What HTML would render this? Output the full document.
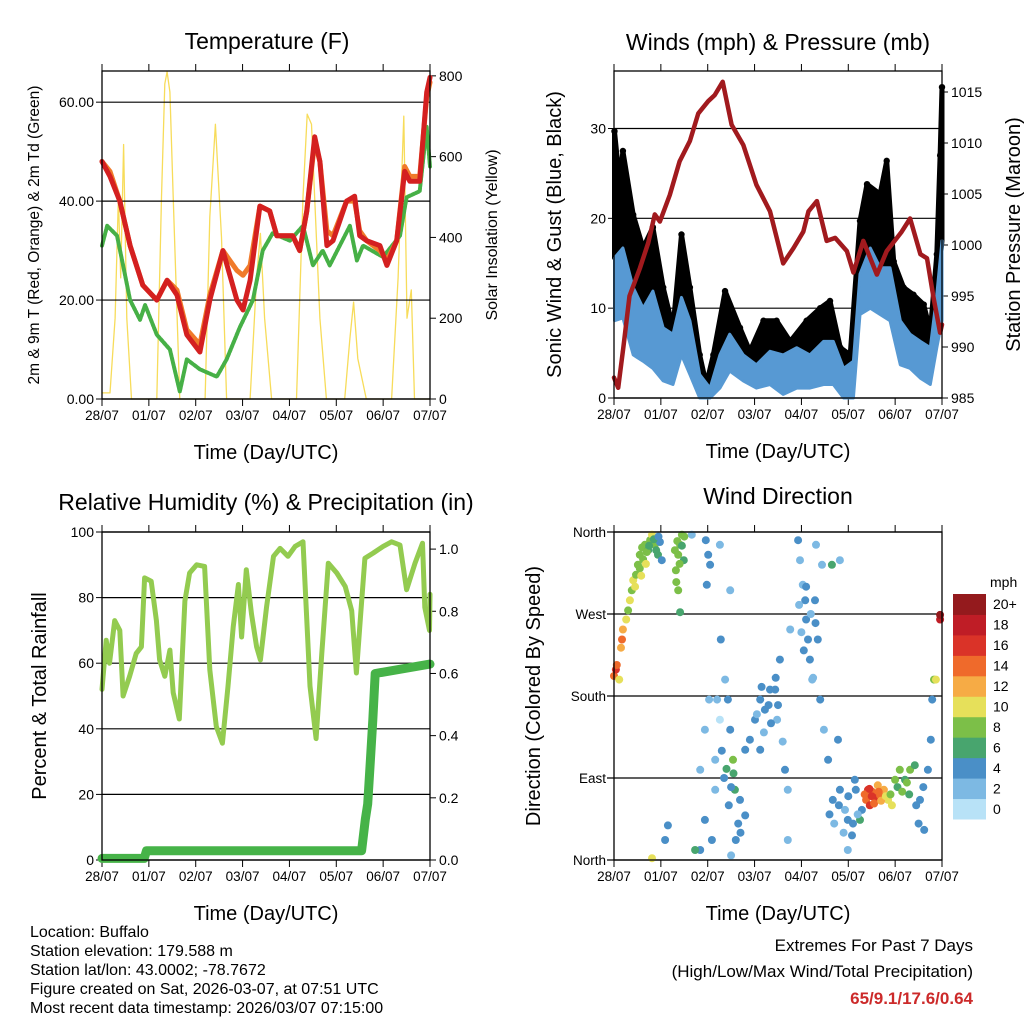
<!DOCTYPE html>
<html><head><meta charset="utf-8"><style>
html,body{margin:0;padding:0;background:#fff;}
svg{display:block;font-family:"Liberation Sans",sans-serif;}
</style></head><body>
<svg id="root" width="1024" height="1024" viewBox="0 0 1024 1024" xmlns="http://www.w3.org/2000/svg">
<g id="g"></g>
<g font-size="16" fill="#000">
<text x="30" y="937">Location: Buffalo</text>
<text x="30" y="956">Station elevation: 179.588 m</text>
<text x="30" y="975">Station lat/lon: 43.0002; -78.7672</text>
<text x="30" y="994">Figure created on Sat, 2026-03-07, at 07:51 UTC</text>
<text x="30" y="1013">Most recent data timestamp: 2026/03/07 07:15:00</text>
</g>
<g text-anchor="end" font-size="17">
<text x="973" y="951">Extremes For Past 7 Days</text>
<text x="973" y="977">(High/Low/Max Wind/Total Precipitation)</text>
<text x="973" y="1004" fill="#cc2a2a" font-weight="bold">65/9.1/17.6/0.64</text>
</g>
</svg>
<script>
// ---------- DATA ----------
const dayLabels=["28/07","01/07","02/07","03/07","04/07","05/07","06/07","07/07"];
const dayTicks=[0,1,2,3,4,5,6,7];
// Temperature panel
const tempT=[0,.17,.38,.6,.87,1.17,1.39,1.6,1.81,2.09,2.3,2.58,2.88,3.01,3.16,3.37,3.58,3.73,4.07,4.22,4.37,4.54,4.65,4.8,4.93,5.22,5.39,5.5,5.65,5.93,6.08,6.29,6.46,6.57,6.78,6.93,7.0];
const temp2m=[48,45,40,31,23,20,24,21,13,9.5,20,30,20,18,24,39,38,33,33,30,38,53,48,31,32,40,41,33,32,31,27,32,46,44,44,62,65];
const temp9m=[48,46,40,31,23,20,24,22,14,11,21,30,26,25,27,39,38,33,33,30,38,52,48,34,33,40,40,34,32,30,28,32,47,45,45,61,64];
const dewT=[0,.11,.32,.45,.6,.81,.92,1.17,1.45,1.66,1.81,2.09,2.45,2.66,2.94,3.22,3.43,3.64,4.01,4.29,4.5,4.71,4.86,5.29,5.44,5.57,6.0,6.36,6.5,6.78,6.93,7.0];
const dew2m=[31,35,33,27,20,16,19,13,10,1.5,8,6,4.5,8,14.5,20,30,33.5,32,35,27,30,27,35,28,31,28.7,33,40.8,42,55,47];
const solarT=[0,.17,.28,.35,.4,.46,.53,.63,1.17,1.27,1.34,1.39,1.45,1.52,1.66,2.2,2.3,2.42,2.55,2.66,3.16,3.3,3.38,3.47,3.62,4.15,4.29,4.38,4.47,4.65,4.79,5.18,5.29,5.37,5.46,5.64,6.18,6.32,6.44,6.51,6.6,6.67,7.0];
const solarW=[15,15,200,500,300,630,200,0,0,500,780,810,760,500,0,0,450,680,400,0,0,300,410,200,0,0,500,705,680,200,0,0,150,240,100,0,0,300,700,200,270,0,0];
// Winds panel
const presT=[0,.09,.2,.33,.55,.73,.87,.98,1.19,1.4,1.62,1.8,2.01,2.15,2.32,2.51,2.76,3.04,3.33,3.61,3.83,4.04,4.15,4.33,4.54,4.72,4.97,5.11,5.32,5.61,5.82,6.14,6.32,6.54,6.68,6.82,6.96,7.0];
const presMb=[987,986,990,995,997.7,1000.2,1003,1002.3,1004.9,1008.2,1010.2,1012.9,1014.1,1014.7,1016,1011.8,1009.8,1005.9,1003.3,998.2,999.7,1001.3,1003.3,1004.3,1000.4,1000.7,999.4,997.3,1000.4,997.1,999.4,1001.3,1002.6,999.1,998.7,994.8,991.4,992.2];
const gustT=[.01,.12,.19,.41,.62,.83,1.05,1.26,1.44,1.62,1.83,1.97,2.12,2.37,2.69,2.9,3.19,3.47,3.76,4.11,4.4,4.61,4.83,5.04,5.25,5.4,5.68,5.82,5.97,6.18,6.39,6.61,6.75,6.89,6.96,7.0];
const gustMph=[29.7,24,27.5,20.4,16.7,19,12.3,7.8,18.2,12.3,4.8,1.5,4.8,11.9,7.8,5.2,8.6,8.6,6.3,8.6,10,10.8,5.6,4.8,19.7,23.8,22.7,26.4,15.2,12.3,11.5,10.4,7.4,16,27,34.6];
const sonicT=[.01,.19,.41,.62,.83,1.05,1.26,1.44,1.62,1.83,2.05,2.26,2.47,2.76,3.04,3.33,3.61,3.9,4.18,4.47,4.68,4.9,5.11,5.25,5.47,5.68,5.89,6.11,6.32,6.54,6.75,6.89,7.0];
const sonicHi=[15.6,16.7,12.3,10,11.9,7.8,7.1,11.2,8.6,2.6,1.1,4.8,7.1,4.8,3.7,5.2,4.8,5.6,4.8,6.3,6.3,3.3,4.1,13.8,16.7,14.5,14.5,8.6,7.1,6.3,5.6,11.5,17.5];
const sonicLo=[8.6,8.9,4.8,4.1,3.3,1.9,1.5,4.8,2.6,0,0,1.1,3,1.9,1.1,1.5,0.4,1.1,1.1,1.5,1.5,0,0,9.3,10,9.3,8.6,3.7,3.3,2.2,1.5,5.6,8.6];
// RH panel
const rhT=[0,.09,.16,.27,.38,.45,.59,.73,.84,.91,1.05,1.16,1.23,1.34,1.45,1.52,1.65,1.77,1.87,2.02,2.19,2.3,2.44,2.57,2.69,2.8,2.91,2.98,3.08,3.19,3.3,3.38,3.51,3.66,3.8,3.97,4.12,4.29,4.44,4.57,4.69,4.83,5.01,5.19,5.33,5.43,5.52,5.61,5.79,6.0,6.18,6.36,6.5,6.68,6.84,6.89,6.99,7.0];
const rhPct=[52,67,60,73,70,50,56,63,65,86,85,73,61,56,64,51,43,79,87.5,90,89.5,58,40.7,35.6,53,71,84,68,88.5,75,65,61,77,92.6,95,92.6,95.6,97,53,37,63,90.5,87.5,83.4,76,57,75,92,93.6,95.6,97,96,82.4,90.5,96.6,77,70,81];
const precT=[0,.9,.95,5.54,5.62,5.67,5.72,5.78,5.83,7.0];
const precIn=[0.005,0.005,0.03,0.03,0.13,0.18,0.3,0.45,0.6,0.63];
// Wind direction panel
const dirT=[0,.04,.06,.11,.15,.17,.19,.26,.30,.34,.38,.41,.47,.51,.55,.60,.66,.73,.77,.81,.87,.94,.98,1.02,1.32,1.37,1.41,1.45,1.49,1.37,1.41,1.66,1.96,2.01,2.05,1.98,2.26,2.48,2.28,2.37,2.20,2.26,2.16,2.16,2.09,1.94,1.84,2.43,2.48,2.54,2.58,2.69,2.80,2.60,2.50,2.80,2.90,3.01,3.12,3.22,3.33,3.44,3.48,3.54,3.65,3.71,3.71,3.93,3.97,4.03,4.08,4.10,4.14,4.18,4.23,4.29,4.35,4.40,4.48,4.31,4.44,4.65,4.82,4.78,4.57,4.67,4.82,4.93,4.99,5.14,5.16,5.29,5.42,5.51,5.59,5.68,5.76,5.85,5.93,6.00,6.10,6.21,6.32,6.42,6.53,6.62,6.70,6.76,6.79,6.83,6.87,6.96,6.96,5.38,5.46,5.63,5.25,1.84,1.94,2.03,1.73,1.09,.81,1.15,3.76,3.12,4.99,5.08,
 .55,.62,.7,.75,.85,.9,.95,.68,.58,.45,1.3,1.35,1.4,1.45,1.5,1.33,2.3,2.35,2.4,2.45,2.5,2.55,2.65,2.7,3.05,3.15,3.2,3.3,3.35,3.45,3.5,3.6,3.95,4.0,4.05,4.1,4.2,4.25,4.3,4.6,4.7,4.8,4.9,5.0,5.1,5.2,5.35,5.45,5.5,5.55,5.65,5.7,5.8,5.9,6.05,6.15,6.25,6.3,6.45,6.5,6.6];
const dirDeg=[202,209,214,198,233,242,253,264,274,285,296,307,313,324,335,343,346,340,351,357,346,335,349,329,318,335,346,357,329,296,272,357,351,335,324,302,346,296,242,198,176,154,110,77,22,44,11,176,143,110,77,66,49,22,5,121,132,154,176,165,187,187,154,220,99,77,22,351,329,302,285,264,242,220,198,285,242,176,143,346,324,324,329,132,110,66,77,55,11,88,77,55,77,75,68,71,77,66,60,88,99,88,99,104,66,33,99,132,176,198,198,264,269,66,60,82,44,99,143,176,11,22,2,38,253,121,44,27,
 320,330,338,345,352,340,355,325,312,300,340,350,325,345,355,305,120,90,100,60,80,95,40,30,160,190,140,170,150,200,170,130,280,250,230,300,270,200,260,50,40,60,30,70,40,50,72,78,70,62,75,65,70,72,80,75,85,72,60,40,80];
const dirSpd=[14,15,13,10,12,13,12,9,8,10,8,10,8,7,8,8,7,6,8,10,7,5,4,4,8,7,8,8,6,7,6,2,4,4,4,3,2,1,4,1,1,0,1,2,4,4,3,4,3,7,6,4,4,4,1,3,3,3,4,3,4,3,2,3,3,2,1,3,1,2,3,4,3,3,2,3,3,4,2,1,1,5,2,3,4,4,3,2,2,3,4,3,15,14,16,13,12,10,9,8,7,6,7,5,4,3,4,3,4,7,10,18,20,14,16,12,6,1,1,2,5,4,10,3,1,4,4,3,
 7,8,7,6,5,6,4,9,10,9,8,7,7,6,8,7,3,4,5,4,3,6,4,4,2,3,2,4,3,4,3,2,2,2,3,3,2,2,3,3,2,3,2,4,3,2,14,16,15,13,14,12,10,7,6,7,8,5,4,4,4];
const speedBins=["0","2","4","6","8","10","12","14","16","18","20+"];
const speedColors=["#b8e2f7","#7db9e3","#4a8fc7","#48a56e","#7cbf48","#e6e05a","#f6ab45","#ef6a2b","#da3328","#bf1d26","#941a1d"];

// ---------- HELPERS ----------
const NS="http://www.w3.org/2000/svg";
const G=document.getElementById('g');
function el(tag,attrs,parent){const e=document.createElementNS(NS,tag);for(const k in attrs)e.setAttribute(k,attrs[k]);(parent||G).appendChild(e);return e;}
function lin(d0,d1,r0,r1){return v=>r0+(v-d0)/(d1-d0)*(r1-r0);}
function pathD(xs,ys,fx,fy){return xs.map((t,i)=>(i?'L':'M')+fx(t).toFixed(1)+','+fy(ys[i]).toFixed(1)).join('');}

function frame(p){
  const g=el('g',{});
  
  
  p.lticks.forEach((v,i)=>{
    const y=p.fy(v);
    if(p.grid){const l=el('line',{x1:p.x0-(p.gridExt||0),x2:p.x1,y1:y,y2:y,stroke:'#000','stroke-width':1.2},g);
    
    }
    el('line',{x1:p.x0-6,x2:p.x0,y1:y,y2:y,stroke:'#000','stroke-width':1},g);
    const tx=el('text',{x:p.x0-8,y:y+5,'text-anchor':'end','font-size':p.lfs||14},g);
    tx.textContent=p.llabels[i];
    
    
  });
  if(p.rticks){p.rticks.forEach((v,i)=>{
    const y=p.fyr(v);
    el('line',{x1:p.x1,x2:p.x1+6,y1:y,y2:y,stroke:'#000','stroke-width':1},g);
    const tx=el('text',{x:p.x1+9,y:y+5,'font-size':14},g);
    tx.textContent=p.rlabels[i];
    
    
  });}
  dayTicks.forEach((d,i)=>{
    const x=p.fx(d);
    el('line',{x1:x,x2:x,y1:p.y0-7,y2:p.y0,stroke:'#000','stroke-width':1},g);
    el('line',{x1:x,x2:x,y1:p.y1,y2:p.y1+7,stroke:'#000','stroke-width':1},g);
    const tx=el('text',{x:x,y:p.y1+21,'text-anchor':'middle','font-size':13.5},g);
    tx.textContent=dayLabels[i];
    
    
  });
  const xt=el('text',{x:(p.x0+p.x1)/2,y:p.y1+60,'text-anchor':'middle','font-size':20},g);
  xt.textContent='Time (Day/UTC)';
  
  
  const tt=el('text',{x:p.tx,y:p.ty,'text-anchor':'middle','font-size':23},g);
  tt.textContent=p.title;
  
  
  const ly=el('text',{transform:`translate(${p.lax},${(p.y0+p.y1)/2}) rotate(-90)`,'text-anchor':'middle','font-size':p.lafs||20},g);
  ly.textContent=p.ltitle;
  
  
  if(p.rtitle){const ry=el('text',{transform:`translate(${p.rax},${(p.y0+p.y1)/2}) rotate(-90)`,'text-anchor':'middle','font-size':p.rafs||20},g);
  ry.textContent=p.rtitle;
  
  }
  return g;
}
function box(p){const r=el('rect',{x:p.x0,y:p.y0,width:p.x1-p.x0,height:p.y1-p.y0,fill:'none',stroke:'#000','stroke-width':1.3});

}
function line(xs,ys,fx,fy,color,w,name,extra){const e=el('path',Object.assign({d:pathD(xs,ys,fx,fy),fill:'none',stroke:color,'stroke-width':w,'stroke-linejoin':'round','stroke-linecap':'round'},extra||{}));

return e;}

// ---------- PANEL 1: Temperature ----------
{const p={name:'temperature',x0:102,x1:430,y0:71,y1:399};
p.fx=lin(0,7,p.x0,p.x1);p.fy=lin(0,66.3,p.y1,p.y0);p.fyr=lin(0,812,p.y1,p.y0);
p.lticks=[0,20,40,60];p.llabels=["0.00","20.00","40.00","60.00"];p.grid=true;
p.rticks=[0,200,400,600,800];p.rlabels=["0","200","400","600","800"];
p.title='Temperature (F)';p.tx=267;p.ty=49;
p.ltitle='2m & 9m T (Red, Orange) & 2m Td (Green)';p.lax=39;p.lafs=15.5;
p.rtitle='Solar Insolation (Yellow)';p.rax=497;p.rafs=16;
line(solarT,solarW,p.fx,p.fyr,'#f7dc5a',1.3,'solar-insolation-line');
frame(p);
line(dewT,dew2m,p.fx,p.fy,'#46b046',4,'dewpoint-2m-line',{'stroke-dasharray':'3 1.5'});
line(tempT,temp9m,p.fx,p.fy,'#f07a2a',5,'temp-9m-line');
line(tempT,temp2m,p.fx,p.fy,'#d42020',5,'temp-2m-line');
box(p);}

// ---------- PANEL 2: Winds & Pressure ----------
{const p={name:'winds',x0:614,x1:942,y0:71,y1:398};
p.fx=lin(0,7,p.x0,p.x1);p.fy=lin(0,36.4,p.y1,p.y0);p.fyr=lin(985,1017.06,p.y1,p.y0);
p.lticks=[0,10,20,30];p.llabels=["0","10","20","30"];p.grid=true;
p.rticks=[985,990,995,1000,1005,1010,1015];p.rlabels=p.rticks.map(String);
p.title='Winds (mph) & Pressure (mb)';p.tx=778;p.ty=50;
p.ltitle='Sonic Wind & Gust (Blue, Black)';p.lax=561;
p.rtitle='Station Pressure (Maroon)';p.rax=1020;
frame(p);
const top=gustT.map((t,i)=>[p.fx(t),p.fy(gustMph[i])]);
const bot=sonicT.map((t,i)=>[p.fx(t),p.fy(sonicHi[i])]).reverse();
const gb=el('path',{d:'M'+top.concat(bot).map(q=>q[0].toFixed(1)+','+q[1].toFixed(1)).join('L')+'Z',fill:'#000',stroke:'#000','stroke-width':5,'stroke-linejoin':'round'});


gustT.forEach((t,i)=>{const c=el('circle',{cx:p.fx(t),cy:p.fy(gustMph[i]),r:3.2,fill:'#000'});

});
const st=sonicT.map((t,i)=>[p.fx(t),p.fy(sonicHi[i])]);
const sb=sonicT.map((t,i)=>[p.fx(t),p.fy(sonicLo[i])]).reverse();
const bb=el('path',{d:'M'+st.concat(sb).map(q=>q[0].toFixed(1)+','+q[1].toFixed(1)).join('L')+'Z',fill:'#5799d3',stroke:'#5799d3','stroke-width':3,'stroke-linejoin':'round'});


line(presT,presMb,p.fx,p.fyr,'#a11a1e',4.5,'pressure-line');
box(p);}

// ---------- PANEL 3: RH & Precip ----------
{const p={name:'humidity',x0:102,x1:430,y0:532,y1:860};
p.fx=lin(0,7,p.x0,p.x1);p.fy=lin(0,100,p.y1,p.y0);p.fyr=lin(0,1.055,p.y1,p.y0);
p.lticks=[0,20,40,60,80,100];p.llabels=p.lticks.map(String);p.grid=true;
p.rticks=[0,.2,.4,.6,.8,1.0];p.rlabels=["0.0","0.2","0.4","0.6","0.8","1.0"];
p.title='Relative Humidity (%) & Precipitation (in)';p.tx=266;p.ty=510;
p.ltitle='Percent & Total Rainfall';p.lax=46;
frame(p);
line(rhT,rhPct,p.fx,p.fy,'#93cb50',5,'relative-humidity-line');
line(precT,precIn,p.fx,p.fyr,'#46b348',9,'precipitation-line');
box(p);}

// ---------- PANEL 4: Wind Direction ----------
{const p={name:'wind-direction',x0:614,x1:942,y0:532,y1:860};
p.fx=lin(0,7,p.x0,p.x1);p.fy=lin(0,360,p.y1,p.y0);
p.lticks=[0,90,180,270,360];p.llabels=["North","East","South","West","North"];p.grid=true;p.gridExt=7;p.lfs=13.5;
p.title='Wind Direction';p.tx=778;p.ty=504;
p.ltitle='Direction (Colored By Speed)';p.lax=540;
frame(p);
dirT.forEach((t,i)=>{
  const b=Math.min(10,Math.max(0,Math.round(dirSpd[i]/2)));
  const c=el('circle',{cx:p.fx(t).toFixed(1),cy:p.fy(dirDeg[i]).toFixed(1),r:4,fill:speedColors[b]});
  
  
});
box(p);
const cb=el('g',{});


const cy0=594,cy1=819,n=speedBins.length,h=(cy1-cy0)/n;
speedBins.forEach((lab,i)=>{
  const y=cy1-(i+1)*h;
  const r=el('rect',{x:953,y:y,width:33,height:h+0.5,fill:speedColors[i]},cb);
  
  
  const tx=el('text',{x:993,y:y+h/2+5,'font-size':14},cb);
  tx.textContent=lab;
  
  
});
const u=el('text',{x:990,y:587,'font-size':14},cb);u.textContent='mph';


}
</script>
</body></html>
